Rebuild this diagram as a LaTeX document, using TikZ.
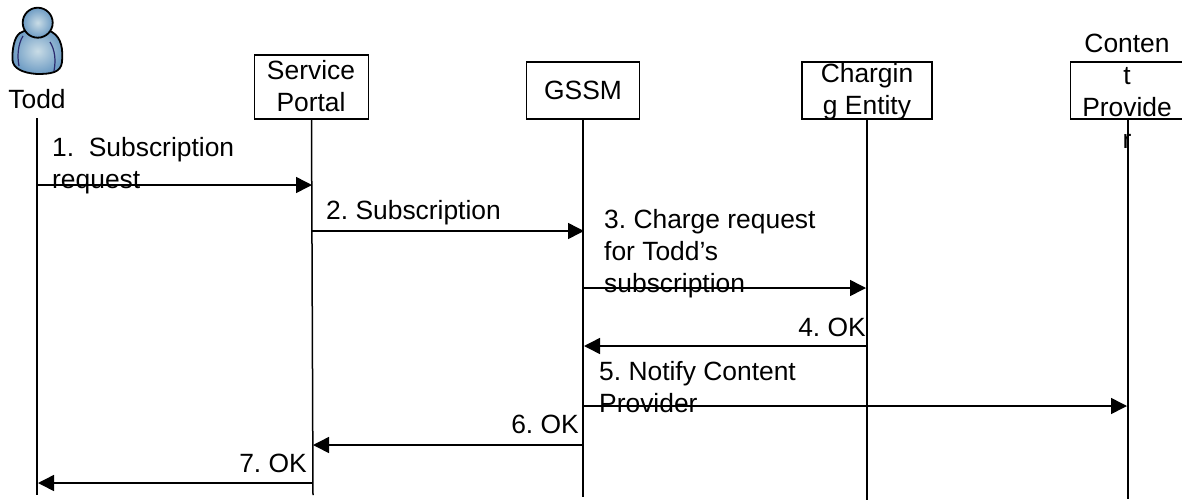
\documentclass[tikz,border=0pt]{standalone}
\usepackage{fontspec}
\setmainfont{Liberation Sans}
\usetikzlibrary{arrows.meta}
\definecolor{bodyblue}{HTML}{6E9CC4}
\definecolor{bodylight}{HTML}{C9DCE6}
\definecolor{seam}{HTML}{2B2A6E}
\tikzset{
  lbl/.style={inner sep=0pt,align=left,anchor=base west,font=\fontsize{26.4}{32}\selectfont\frenchspacing},
  ctr/.style={inner sep=0pt,align=center,font=\fontsize{26.4}{32}\selectfont\frenchspacing},
  boxn/.style={draw=black,line width=1.5pt,inner sep=0pt},
  life/.style={draw=black,line width=1.5pt},
  msg/.style={draw=black,line width=1.5pt,-{Triangle[length=16pt,width=16pt]}}
}
\begin{document}
\begin{tikzpicture}[x=1pt,y=-1pt]
\useasboundingbox (0,0) rectangle (1182,501);
% person
\shade[inner color=bodylight,outer color=bodyblue,draw=black,line width=1.8pt]
  (20,33) .. controls (14,37) and (12,50) .. (12.5,60) .. controls (13,68) and (22,73) .. (37,74)
  .. controls (50,74) and (61,73) .. (62,62) .. controls (63,50) and (62,38) .. (52,32)
  .. controls (44,28) and (28,28) .. (20,33) -- cycle;
\draw[seam,line width=1.2pt] (23,36) .. controls (18,44) and (17,56) .. (19,66);
\draw[seam,line width=1.2pt] (50,42) .. controls (55,50) and (56,60) .. (54,71);
\shade[inner color=bodylight,outer color=bodyblue,draw=black,line width=1.8pt] (37.7,22.7) circle [radius=15];
% header nodes
\node[ctr] (todd) at (37,99) {Todd};
\node[boxn,minimum width=114pt,minimum height=64pt] (sp) at (311.5,87) {};
\node[ctr] (sptxt) at (311,86) {Service\\Portal};
\node[boxn,minimum width=113pt,minimum height=57pt] (gssm) at (583,90.5) {};
\node[ctr] (gssmtxt) at (583,90) {GSSM};
\node[boxn,minimum width=130pt,minimum height=57pt] (ce) at (867,90.5) {};
\node[ctr] (cetxt) at (867,91.5) {Chargin\\g Entity};
\node[boxn,minimum width=125pt,minimum height=57pt] (cp) at (1133,90.5) {};
\node[ctr] (cptxt) at (1127,91) {Conten\\t\\Provide\\r};
% lifelines
\coordinate (t0) at (37,118);  \coordinate (t1) at (37,495);
\coordinate (s1) at (313,495);
\coordinate (g1) at (583,497);
\coordinate (c1) at (867,500);
\coordinate (p0) at (1128,119);\coordinate (p1) at (1128,499);
\draw[life] (t0) -- (t1);
\draw[life] (sp.south) -- (s1);
\draw[life] (gssm.south) -- (g1);
\draw[life] (ce.south) -- (c1);
\draw[life] (p0) -- (p1);
% messages
\coordinate (m1a) at (37,185);  \coordinate (m1b) at (312,185);
\coordinate (m2a) at (312,231); \coordinate (m2b) at (584,231);
\coordinate (m3a) at (583,288); \coordinate (m3b) at (866,288);
\coordinate (m4a) at (867,346); \coordinate (m4b) at (584,346);
\coordinate (m5a) at (583,406); \coordinate (m5b) at (1127,406);
\coordinate (m6a) at (583,445); \coordinate (m6b) at (313,445);
\coordinate (m7a) at (312,483); \coordinate (m7b) at (38,483);
\foreach \a/\b in {m1a/m1b,m2a/m2b,m3a/m3b,m4a/m4b,m5a/m5b,m6a/m6b,m7a/m7b}
  \draw[msg] (\a) -- (\b);
% labels
\node[lbl] (l1) at (52,188) {1.\ \ Subscription\\request};
\node[lbl] (l2) at (326,219) {2. Subscription};
\node[lbl] (l3) at (604,292) {3. Charge request\\for Todd’s\\subscription};
\node[lbl,anchor=base east] (l4) at (866,336) {4. OK};
\node[lbl] (l5) at (599,412) {5. Notify Content\\Provider};
\node[lbl,anchor=base east] (l6) at (579,433) {6. OK};
\node[lbl,anchor=base east] (l7) at (307,472) {7. OK};
\end{tikzpicture}
\end{document}
